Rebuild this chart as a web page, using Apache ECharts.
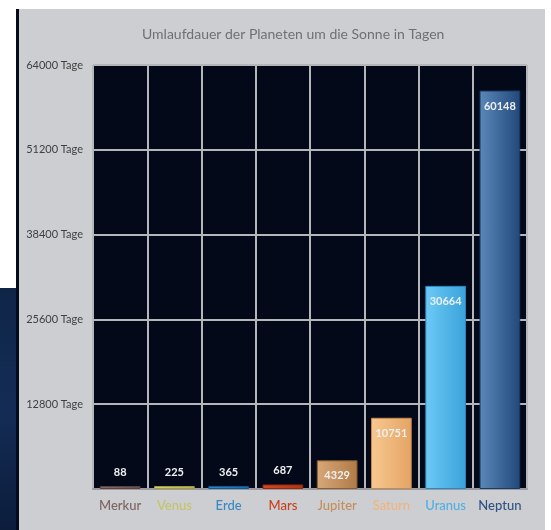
<!DOCTYPE html>
<html>
<head>
<meta charset="utf-8">
<script src="https://cdn.jsdelivr.net/npm/echarts@6/dist/echarts.min.js"></script>
<style>
  html, body { margin:0; padding:0; background:#ffffff; }
  #wrap { position:relative; width:551px; height:530px; overflow:hidden; }
  #stars { position:absolute; left:0; top:288px; width:19px; height:242px;
    background:linear-gradient(180deg,#0f2548 0%,#142c55 50%,#0c1d3c 100%); }
  #edge { position:absolute; left:16px; top:9px; width:3px; height:521px; background:#050b1c; }
  #panel { position:absolute; left:19px; top:9px; width:526px; height:521px; background:#cdced2; }
  #chart { position:absolute; left:0; top:0; width:551px; height:530px; }
</style>
</head>
<body>
<div id="wrap">
  <div id="stars"></div>
  <div id="edge"></div>
  <div id="panel"></div>
  <div id="chart"></div>
</div>
<script>
const categories = ['Merkur','Venus','Erde','Mars','Jupiter','Saturn','Uranus','Neptun'];
const values = [88, 225, 365, 687, 4329, 10751, 30664, 60148];
const yTicks = [0, 12800, 25600, 38400, 51200, 64000];
const labelColors = ['#7e6460','#c4c46a','#3a88c4','#c8401c','#c48e5e','#f0b47c','#4eb0e4','#2f5282'];
const barLight = ['#8a6c66','#d4d070','#2a88d0','#d44a20','#d8a878','#f8c890','#6ccaf6','#5a88ba'];
const barDark  = ['#6a4e4a','#b8b050','#1668ac','#b03414','#b07a46','#e4a464','#3aa2da','#22487a'];
const barBorder= ['#5a423e','#a09a40','#105890','#902a10','#8a5e34','#c88a50','#2a88c0','#1a3a66'];

const chart = echarts.init(document.getElementById('chart'), null, {renderer:'canvas'});
const catData = categories.map((c,i) => ({ value:c, textStyle:{ color: labelColors[i] } }));
const data = values.map((v,i) => ({
  value: v,
  itemStyle: {
    color: new echarts.graphic.LinearGradient(0,0,1,0,[
      {offset:0,color:barLight[i]},{offset:1,color:barDark[i]}]),
    borderColor: barBorder[i], borderWidth: 1
  },
  label: v > 3000 ? {position:'insideTop', distance:10} : {position:'top', distance:8}
}));
chart.setOption({
  backgroundColor:'transparent',
  animation:false,
  title:{ text:'Umlaufdauer der Planeten um die Sonne in Tagen', left:137, top:22,
    textStyle:{ fontFamily:'Lato', fontSize:14, fontWeight:'normal', color:'#707072' } },
  grid:{ left:93, right:24, top:65, bottom:41, show:true, backgroundColor:'#030918',
    borderColor:'#a4a6aa', borderWidth:1, containLabel:false },
  xAxis:{ type:'category', data:catData,
    axisLine:{show:true, lineStyle:{color:'#9a9a9e', width:2}},
    axisTick:{show:false},
    splitLine:{show:true, interval:0, lineStyle:{color:'#b4b6ba', width:2}},
    axisLabel:{ interval:0, margin:10, fontFamily:'Lato', fontSize:13, fontWeight:500 } },
  yAxis:{ type:'value', min:yTicks[0], max:yTicks[yTicks.length-1], interval:12800,
    axisLine:{show:false}, axisTick:{show:false},
    splitLine:{show:true, lineStyle:{color:'#b4b6ba', width:2}},
    axisLabel:{ margin:10, fontFamily:'Lato', fontSize:11, color:'#404040',
      formatter: v => v === 0 ? '' : v + ' Tage' } },
  series:[{ type:'bar', data:data, barWidth:'75%', barMinHeight:3,
    label:{ show:true, color:'#eef0f2', fontFamily:'Lato', fontSize:11, fontWeight:'bold' } }]
});
</script>
</body>
</html>
